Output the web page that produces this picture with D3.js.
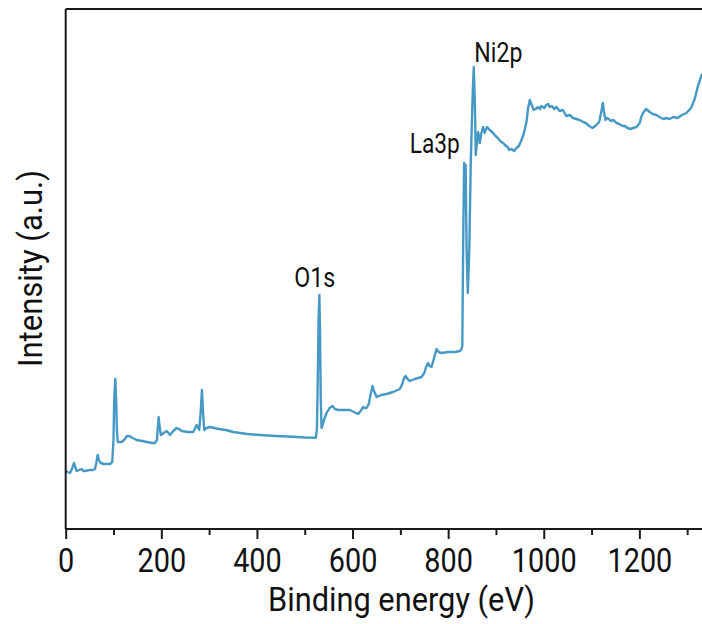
<!DOCTYPE html>
<html>
<head>
<meta charset="utf-8">
<script src="https://cdn.jsdelivr.net/npm/d3@7"></script>
<style>
  html, body { margin: 0; padding: 0; background: #fff; }
  svg { display: block; }
  text { font-family: Roboto, "Liberation Sans", sans-serif; fill: #111; }
</style>
</head>
<body>
<svg id="chart" width="702" height="624"></svg>
<script>
// Binding energy (eV)
const energy = [0,4,9,13,17.4,20,23,28,33.5,37,40.4,50,57,61.3,64,66.9,69.5,73.2,80,86,92.6,97.4,100,101.5,103.7,105.5,107,108.7,113,117.1,124,128,133,140,148.4,160,170,180,186.7,190.9,192.5,194.4,196.3,199.2,205,211.2,215,218.1,225,232.1,237,242.5,255,266.8,270,273.9,277,279.3,282,285,287.5,289.8,295,301.7,320,335,350.4,380,406.2,440,475.8,500,523.3,525.5,527,529,530.6,532,533.5,535.2,538,541,545.7,552,558.2,563,569.9,580,594.4,603,611.7,617,622.2,626,629.3,634,638,641.8,645,650.2,660,671.1,685,698.9,704,708,710.8,715,719.8,730,744.3,750,754,758.1,761,765.2,770,775.7,780,786.1,800,815,824.4,828,829.6,831.3,833.4,834.8,836.5,838.6,841.1,844.2,847.4,851.6,853.6,855,856.2,857.8,860,862.6,864.5,866.2,869,873.1,876.6,878.5,881.4,887,894,899,904,909,914.9,919,924,928,932.5,938,942.9,948,953.4,958,963.8,967,970.7,974,979.1,983,988.1,992,995,1001,1005,1009,1013,1017,1022,1026.5,1033,1040,1047,1054.3,1061,1068,1075,1082.2,1088,1095,1102,1110.2,1116,1120.6,1123.5,1126.1,1129,1132.3,1136,1140,1146,1152,1158,1165,1170,1175,1181,1186.7,1194,1200.7,1204,1207.6,1214,1221.6,1228,1235.6,1242,1250,1256,1263.4,1271,1280,1289,1298.3,1308,1315.7,1322,1331,1338];
// Intensity (a.u.)
const intensity = [58,57,56,60,66,62,58,59,60,58,58,59,59,60,66,74,69,66,65,65,65,67,90,130,150,130,100,87,87,87,90,93,93,91,89,88,87,86,86,89,100,112,103,94,96,98,96,94,98,101,100,98,97,97,100,104,101,99,115,139,115,99,101,102,100,99,97,95,94,93,92.3,91.5,91.3,100,140,210,234,200,130,101,105,110,116,121,123,120,119,119,119,117,115,118,122,121,121,125,135,143,138,132,134,135,137,140,145,151,153,150,148,150,152,156,162,166,163,162,170,180,177,176,177,177,178,180,183,279,366,329,364,279,236,279,369,439,462,440,419,374,385,397,392,386,395,402,396,399,402,399,396,393,391,388,386,384,382,379,380,378,381,383,389,395,407,420,429,425,419,420,422,420,423,421,424,425,422,423,420,422,418,419,413,414,411,410,409,407,406,403,401,404,407,418,426,417,409,411,410,408,409,406,405,403,403,401,400,401,402,406,412,416,420,417,415,414,412,410,411,410,412,411,414,416,421,430,442,455];

const majorTicks = [0, 200, 400, 600, 800, 1000, 1200];
const minorTicks = [100, 300, 500, 700, 900, 1100, 1300];
const peakLabels = ["O1s", "La3p", "Ni2p"];
const peakEnergies = [521, 772, 905];
const peakLabelIntensities = [242, 376, 467];

const xTitle = "Binding energy (eV)";
const yTitle = "Intensity (a.u.)";

const svg = d3.select("#chart");
const mLeft = 65.7, mRight = 702, mTop = 9, mBottom = 529;

const x = d3.scaleLinear().domain([0, 1331]).range([mLeft, mRight]);
const y = d3.scaleLinear().domain([0, 520]).range([mBottom, mTop]);

const data = energy.map((e, i) => ({ e, v: intensity[i] }));

svg.append("defs").append("clipPath").attr("id", "clip")
  .append("rect").attr("x", mLeft).attr("y", mTop).attr("width", mRight - mLeft + 2).attr("height", mBottom - mTop);

// spectrum
svg.append("path")
  .datum(data)
  .attr("clip-path", "url(#clip)")
  .attr("fill", "none")
  .attr("stroke", "#4699c5")
  .attr("stroke-width", 2.4)
  .attr("stroke-linejoin", "round")
  .attr("d", d3.line().x(d => x(d.e)).y(d => y(d.v)));

// frame: left axis, top border
svg.append("line").attr("x1", mLeft).attr("x2", mRight).attr("y1", mTop).attr("y2", mTop)
  .attr("stroke", "#1a1a1a").attr("stroke-width", 2);
svg.append("line").attr("x1", mLeft).attr("x2", mLeft).attr("y1", mTop).attr("y2", mBottom)
  .attr("stroke", "#1a1a1a").attr("stroke-width", 2);

// x axis minor ticks
const minorAxis = d3.axisBottom(x).tickValues(minorTicks).tickSize(6).tickFormat("");
const gMinor = svg.append("g").attr("transform", `translate(0,${mBottom})`).call(minorAxis);
gMinor.select(".domain").remove();
gMinor.selectAll("line").attr("stroke", "#1a1a1a").attr("stroke-width", 2);

// x axis major
const majorAxis = d3.axisBottom(x).tickValues(majorTicks).tickSize(10).tickPadding(8).tickFormat(d3.format("d"));
const gx = svg.append("g").attr("transform", `translate(0,${mBottom})`).call(majorAxis);
gx.select(".domain").attr("stroke", "#1a1a1a").attr("stroke-width", 2)
  .attr("d", `M${mLeft},0H${mRight}`);
gx.selectAll("line").attr("stroke", "#1a1a1a").attr("stroke-width", 2);
gx.selectAll("text")
  .attr("font-size", 34)
  .attr("font-family", "Roboto, sans-serif")
  .attr("fill", "#111")
  .attr("dy", null)
  .attr("y", 43)
  .attr("textLength", d => String(d).length * 16.2)
  .attr("lengthAdjust", "spacingAndGlyphs");

// axis titles
svg.append("text")
  .attr("x", 401.5).attr("y", 611)
  .attr("text-anchor", "middle")
  .attr("font-size", 34)
  .attr("textLength", 267).attr("lengthAdjust", "spacingAndGlyphs")
  .text(xTitle);

svg.append("text")
  .attr("transform", "translate(41.5,268.5) rotate(-90)")
  .attr("text-anchor", "middle")
  .attr("font-size", 34)
  .attr("textLength", 197).attr("lengthAdjust", "spacingAndGlyphs")
  .text(yTitle);

// peak labels
const labelWidths = [41, 50, 48];
svg.selectAll(".peak")
  .data(peakLabels)
  .join("text")
  .attr("class", "peak")
  .attr("x", (d, i) => x(peakEnergies[i]))
  .attr("y", (d, i) => y(peakLabelIntensities[i]))
  .attr("text-anchor", "middle")
  .attr("font-size", 28)
  .attr("textLength", (d, i) => labelWidths[i])
  .attr("lengthAdjust", "spacingAndGlyphs")
  .text(d => d);
</script>
</body>
</html>
